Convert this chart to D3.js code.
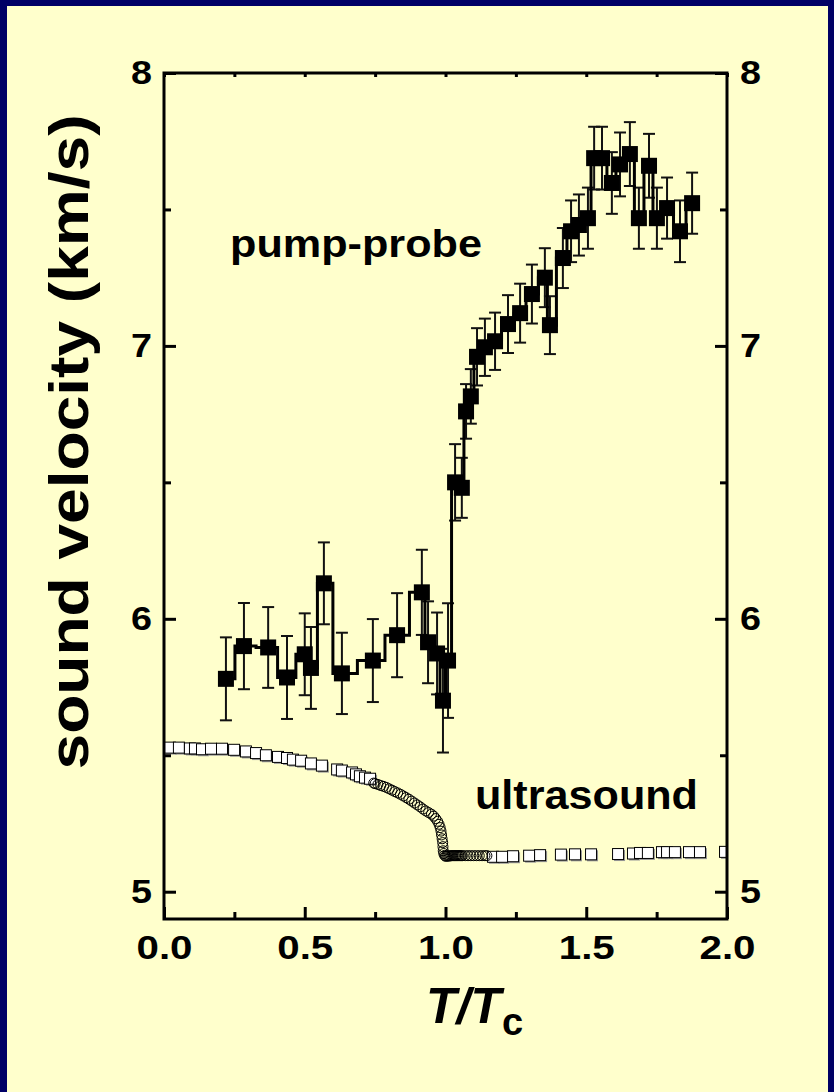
<!DOCTYPE html>
<html lang="en">
<head>
<meta charset="utf-8">
<title>Sound velocity</title>
<script type="text/javascript" src="https://d3js.org/d3.v7.min.js"></script>
<style>
  body { margin: 0; background: #000066; }
  svg { display: block; }
  text { font-family: "Liberation Sans", Arial, sans-serif; font-weight: bold; fill: #000; }
</style>
</head>
<body>
<div id="chart"></div>
<script type="text/javascript">

// pump-probe data (T/Tc, velocity km/s, error)
var ppX = [0.22, 0.284, 0.37, 0.437, 0.50, 0.522, 0.568, 0.632, 0.742, 0.828, 0.916, 0.938, 0.97, 0.991, 1.009,
           1.034, 1.058, 1.073, 1.09, 1.112, 1.14, 1.176, 1.222, 1.265, 1.307, 1.353, 1.371, 1.417, 1.446, 1.474,
           1.506, 1.528, 1.556, 1.591, 1.62, 1.655, 1.687, 1.723, 1.751, 1.787, 1.833, 1.876];
var ppY = [5.78, 5.90, 5.895, 5.785, 5.87, 5.82, 6.13, 5.80, 5.847, 5.94, 6.097, 5.914, 5.873, 5.70, 5.847,
           6.50, 6.48, 6.76, 6.815, 6.96, 6.995, 7.017, 7.08, 7.12, 7.19, 7.25, 7.076, 7.322, 7.42, 7.443,
           7.468, 7.688, 7.688, 7.597, 7.665, 7.703, 7.468, 7.66, 7.468, 7.505, 7.42, 7.523];
var ppErr = [0.152, 0.158, 0.148, 0.152, 0.15, 0.15, 0.15, 0.149, 0.152, 0.154, 0.156, 0.15, 0.15, 0.19, 0.21,
             0.14, 0.11, 0.10, 0.10, 0.105, 0.105, 0.105, 0.106, 0.108, 0.108, 0.108, 0.106, 0.11, 0.113, 0.112,
             0.112, 0.115, 0.115, 0.113, 0.117, 0.117, 0.112, 0.117, 0.112, 0.112, 0.113, 0.112];

// ultrasound, open squares
var usSqX = [0.021, 0.053, 0.092, 0.110, 0.135, 0.167, 0.206, 0.249, 0.291, 0.327, 0.362, 0.405, 0.437, 0.458,
             0.487, 0.522, 0.561, 0.615, 0.632, 0.668, 0.682, 0.696, 0.714, 0.732,
             1.169, 1.201, 1.240, 1.297, 1.336, 1.410, 1.460, 1.517, 1.613, 1.666, 1.691, 1.719, 1.769, 1.787,
             1.815, 1.865, 1.904, 1.993];
var usSqY = [5.528, 5.528, 5.525, 5.525, 5.522, 5.524, 5.524, 5.52, 5.514, 5.508, 5.50, 5.494, 5.49, 5.484,
             5.48, 5.47, 5.462, 5.448, 5.444, 5.437, 5.43, 5.423, 5.418, 5.414,
             5.128, 5.128, 5.13, 5.132, 5.134, 5.136, 5.137, 5.137, 5.138, 5.14, 5.142, 5.142, 5.145, 5.145,
             5.145, 5.145, 5.145, 5.146];

// ultrasound, open circles near Tc
var usCirX = [0.745, 0.750, 0.760, 0.770, 0.780, 0.790, 0.800, 0.810, 0.820, 0.830, 0.840, 0.850, 0.860, 0.870,
              0.880, 0.890, 0.900, 0.910, 0.920, 0.930, 0.940, 0.950, 0.958, 0.965, 0.972, 0.977, 0.981, 0.984,
              0.986, 0.988, 0.990, 0.991, 0.992, 0.994, 0.997, 1.000, 1.004, 1.008, 1.012, 1.016, 1.020, 1.024,
              1.028, 1.032, 1.036, 1.040, 1.044, 1.048, 1.052, 1.056, 1.060, 1.070, 1.080, 1.090, 1.100, 1.110,
              1.120, 1.130, 1.140, 1.147];
var usCirY = [5.398, 5.396, 5.393, 5.389, 5.386, 5.382, 5.377, 5.372, 5.367, 5.362, 5.357, 5.351, 5.345, 5.339,
              5.332, 5.325, 5.318, 5.311, 5.303, 5.296, 5.290, 5.284, 5.277, 5.268, 5.258, 5.247, 5.235, 5.222,
              5.208, 5.194, 5.180, 5.165, 5.150, 5.140, 5.133, 5.130, 5.130, 5.131, 5.131, 5.131, 5.132, 5.132,
              5.132, 5.132, 5.132, 5.132, 5.132, 5.132, 5.132, 5.132, 5.132, 5.132, 5.132, 5.132, 5.132, 5.132,
              5.132, 5.132, 5.132, 5.132];

var xMajor = [0, 0.5, 1.0, 1.5, 2.0];
var xMinor = [0.25, 0.75, 1.25, 1.75];
var yMajor = [5, 6, 7, 8];
var yMinor = [5.5, 6.5, 7.5];

var W = 834, H = 1092;
var pLeft = 164, pRight = 727, pTop = 73, pBottom = 919;

var svg = d3.select("#chart").append("svg")
    .attr("width", W)
    .attr("height", H);

svg.append("rect").attr("width", W).attr("height", H).attr("fill", "#000066");
svg.append("rect").attr("x", 7).attr("y", 6).attr("width", W - 13).attr("height", H - 6).attr("fill", "#FFFFCC");

var x = d3.scaleLinear().domain([0, 2]).range([pLeft, pRight]);
var y = d3.scaleLinear().domain([4.9, 8]).range([pBottom, pTop]);

svg.append("clipPath").attr("id", "plotclip")
  .append("rect").attr("x", pLeft).attr("y", pTop).attr("width", pRight - pLeft).attr("height", pBottom - pTop);

var plot = svg.append("g").attr("clip-path", "url(#plotclip)");

// ultrasound squares
var sq = d3.range(usSqX.length);
plot.append("g").selectAll("rect")
    .data(sq).enter().append("rect")
    .attr("x", function(i) { return x(usSqX[i]) - 4; })
    .attr("y", function(i) { return y(usSqY[i]) - 4; })
    .attr("width", 11).attr("height", 11)
    .attr("fill", "#999");
plot.append("g").selectAll("rect")
    .data(sq).enter().append("rect")
    .attr("x", function(i) { return x(usSqX[i]) - 5.5; })
    .attr("y", function(i) { return y(usSqY[i]) - 5.5; })
    .attr("width", 11).attr("height", 11)
    .attr("fill", "#fff").attr("stroke", "#000").attr("stroke-width", 1);

// ultrasound circles
plot.append("g").selectAll("circle")
    .data(d3.range(usCirX.length)).enter().append("circle")
    .attr("cx", function(i) { return x(usCirX[i]); })
    .attr("cy", function(i) { return y(usCirY[i]); })
    .attr("r", 5)
    .attr("fill", "none").attr("stroke", "#000").attr("stroke-width", 1);

// pump-probe
var pp = d3.range(ppX.length);
var eb = plot.append("g").attr("stroke", "#111").attr("stroke-width", 2);
eb.selectAll("line.v").data(pp).enter().append("line").attr("class", "v")
    .attr("x1", function(i) { return x(ppX[i]); }).attr("x2", function(i) { return x(ppX[i]); })
    .attr("y1", function(i) { return y(ppY[i] + ppErr[i]); }).attr("y2", function(i) { return y(ppY[i] - ppErr[i]); });
eb.selectAll("line.t").data(pp).enter().append("line").attr("class", "t")
    .attr("x1", function(i) { return x(ppX[i]) - 6; }).attr("x2", function(i) { return x(ppX[i]) + 6; })
    .attr("y1", function(i) { return y(ppY[i] + ppErr[i]); }).attr("y2", function(i) { return y(ppY[i] + ppErr[i]); });
eb.selectAll("line.b").data(pp).enter().append("line").attr("class", "b")
    .attr("x1", function(i) { return x(ppX[i]) - 6; }).attr("x2", function(i) { return x(ppX[i]) + 6; })
    .attr("y1", function(i) { return y(ppY[i] - ppErr[i]); }).attr("y2", function(i) { return y(ppY[i] - ppErr[i]); });

var step = d3.line()
    .x(function(i) { return x(ppX[i]); })
    .y(function(i) { return y(ppY[i]); })
    .curve(d3.curveStep);
plot.append("path").datum(pp)
    .attr("d", step)
    .attr("fill", "none").attr("stroke", "#000").attr("stroke-width", 3);

plot.append("g").selectAll("rect")
    .data(pp).enter().append("rect")
    .attr("x", function(i) { return x(ppX[i]) - 8; })
    .attr("y", function(i) { return y(ppY[i]) - 8; })
    .attr("width", 16).attr("height", 16)
    .attr("fill", "#000");

// axes
function styleAxis(g) {
  g.select(".domain").remove();
  g.selectAll("line").attr("stroke", "#000").attr("stroke-width", 3);
  g.selectAll("text").attr("font-size", 34).attr("fill", "#000")
    .attr("font-family", "Liberation Sans, Arial, sans-serif").attr("font-weight", "bold")
    .attr("textLength", function() { return this.textContent.length > 1 ? 56 : 21; })
    .attr("lengthAdjust", "spacingAndGlyphs");
}

svg.append("g").attr("transform", "translate(0," + pBottom + ")")
  .call(d3.axisBottom(x).tickValues(xMajor).tickSize(-12).tickPadding(16).tickFormat(d3.format(".1f")))
  .call(styleAxis);
svg.append("g").attr("transform", "translate(0," + pBottom + ")")
  .call(d3.axisBottom(x).tickValues(xMinor).tickSize(-7).tickFormat(""))
  .call(styleAxis);
svg.append("g").attr("transform", "translate(0," + pTop + ")")
  .call(d3.axisTop(x).tickValues(xMajor.concat(xMinor)).tickSize(-4).tickFormat(""))
  .call(styleAxis);

svg.append("g").attr("transform", "translate(" + pLeft + ",0)")
  .call(d3.axisLeft(y).tickValues(yMajor).tickSize(-12).tickPadding(12).tickFormat(d3.format("d")))
  .call(styleAxis);
svg.append("g").attr("transform", "translate(" + pLeft + ",0)")
  .call(d3.axisLeft(y).tickValues(yMinor).tickSize(-7).tickFormat(""))
  .call(styleAxis);
svg.append("g").attr("transform", "translate(" + pRight + ",0)")
  .call(d3.axisRight(y).tickValues(yMajor).tickSize(-12).tickPadding(13).tickFormat(d3.format("d")))
  .call(styleAxis);
svg.append("g").attr("transform", "translate(" + pRight + ",0)")
  .call(d3.axisRight(y).tickValues(yMinor).tickSize(-7).tickFormat(""))
  .call(styleAxis);

// frame
svg.append("rect")
    .attr("x", pLeft).attr("y", pTop)
    .attr("width", pRight - pLeft).attr("height", pBottom - pTop)
    .attr("fill", "none").attr("stroke", "#000").attr("stroke-width", 3);

// axis titles
svg.append("text")
    .attr("transform", "translate(88,442) rotate(-90)")
    .attr("text-anchor", "middle")
    .attr("font-size", 55)
    .attr("textLength", 655).attr("lengthAdjust", "spacingAndGlyphs")
    .text("sound velocity (km/s)");

var xt = svg.append("text")
    .attr("x", 426).attr("y", 1023)
    .attr("font-size", 50);
xt.append("tspan").attr("font-style", "italic").text("T/T");
xt.append("tspan").attr("font-size", 38).attr("dy", 12).attr("dx", 1).text("c");

// series labels
svg.append("text")
    .attr("x", 230).attr("y", 257)
    .attr("font-size", 38)
    .attr("textLength", 252).attr("lengthAdjust", "spacingAndGlyphs")
    .text("pump-probe");
svg.append("text")
    .attr("x", 475).attr("y", 809)
    .attr("font-size", 40)
    .attr("textLength", 223).attr("lengthAdjust", "spacingAndGlyphs")
    .text("ultrasound");

</script>
</body>
</html>
